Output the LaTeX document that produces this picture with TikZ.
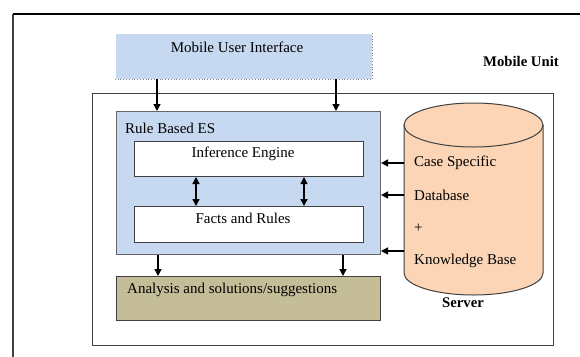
\documentclass[tikz,border=0pt]{standalone}
\usepackage{fontspec}
\setmainfont{Liberation Serif}
\usetikzlibrary{arrows.meta}
\definecolor{blueF}{HTML}{C6D9F1}
\definecolor{tanF}{HTML}{C4BD97}
\definecolor{peachF}{HTML}{FBD5B5}
\definecolor{frameG}{HTML}{404040}
\begin{document}
\begin{tikzpicture}[x=1pt,y=-1pt,
  txt/.style={inner sep=0pt, font=\fontsize{15}{17}\selectfont},
  btxt/.style={inner sep=0pt, font=\fontsize{14.7}{17}\selectfont\bfseries},
  blk/.style={anchor=north west, inner sep=0pt, line width=1pt},
  arr/.style={line width=1.4pt, -{Triangle[length=7pt,width=7pt]}},
  darr/.style={line width=1.4pt, {Triangle[length=7pt,width=7pt]}-{Triangle[length=7pt,width=7pt]}}]
\useasboundingbox (0,0) rectangle (580,356);
% outer frame (cut by picture edges)
\draw[frameG, line width=1.2pt] (13,357) -- (13,14);
\draw[black, line width=1.4pt] (13,14) -- (581,14);
\node[btxt, anchor=west] (mobunit) at (483,61) {Mobile Unit};
% mobile user interface
\node[blk, fill=blueF, minimum width=256pt, minimum height=45pt] (mui) at (115,33) {};
\draw[gray, dotted, line width=0.8pt] (mui.north east) -- (mui.south east) -- (mui.south west);
\node[txt] (muitext) at (237,47) {Mobile User Interface};
% inner frame
\node[blk, draw=frameG, minimum width=461pt, minimum height=252pt] (unit) at (92,93) {};
% rule based ES
\node[blk, draw=gray!80!black, fill=blueF, minimum width=264pt, minimum height=143pt] (es) at (116,111) {};
\node[txt, anchor=west] (estext) at (125,128) {Rule Based ES};
\node[blk, draw=frameG, fill=white, minimum width=229pt, minimum height=35pt] (ie) at (134,141) {};
\node[txt] (ietext) at (243,154) {Inference Engine};
\node[blk, draw=frameG, fill=white, minimum width=229pt, minimum height=36pt] (fr) at (134,206) {};
\node[txt] (frtext) at (243,218) {Facts and Rules};
% analysis
\node[blk, draw=frameG, fill=tanF, minimum width=264pt, minimum height=44pt] (an) at (116,276) {};
\node[txt, anchor=west] (antext) at (127,290) {Analysis and solutions/suggestions};
% server cylinder
\coordinate (cylTL) at (404,125);
\coordinate (cylBL) at (404,273);
\coordinate (cylBR) at (543,273);
\coordinate (cylTR) at (543,125);
\draw[frameG, fill=peachF, line width=1pt]
  (cylTL) -- (cylBL)
  .. controls (404,285.15) and (435.1,295) .. (473.5,295)
  .. controls (511.9,295) and (543,285.15) .. (cylBR)
  -- (cylTR)
  .. controls (543,112.85) and (511.9,103) .. (473.5,103)
  .. controls (435.1,103) and (404,112.85) .. (cylTL) -- cycle;
\draw[frameG, line width=1pt]
  (cylTL) .. controls (404,137.15) and (435.1,147) .. (473.5,147)
  .. controls (511.9,147) and (543,137.15) .. (cylTR);
\node[txt, anchor=west] (cs) at (414,163) {Case Specific};
\node[txt, anchor=west] (db) at (414,195) {Database};
\node[txt, anchor=west] (plus) at (414,228) {+};
\node[txt, anchor=west] (kb) at (414,261) {Knowledge Base};
\node[btxt] (server) at (463,303) {Server};
% connectors
\draw[arr] ([xshift=42pt]mui.south west) -- ([xshift=42pt]mui.south west |- es.north);
\draw[arr] ([xshift=221pt]mui.south west) -- ([xshift=221pt]mui.south west |- es.north);
\draw[darr] ([xshift=62pt]ie.south west) -- ([xshift=62pt]ie.south west |- fr.north);
\draw[darr] ([xshift=170pt]ie.south west) -- ([xshift=170pt]ie.south west |- fr.north);
\draw[arr] ([xshift=42pt]es.south west) -- ([xshift=42pt]es.south west |- an.north);
\draw[arr] ([xshift=227pt]es.south west) -- ([xshift=227pt]es.south west |- an.north);
\draw[arr] (cylTL |- cs) -- (es.east |- cs);
\draw[arr] (cylTL |- db) -- (es.east |- db);
\draw[arr] (404,251) coordinate (kbin) -- (es.east |- kbin);
\end{tikzpicture}
\end{document}
